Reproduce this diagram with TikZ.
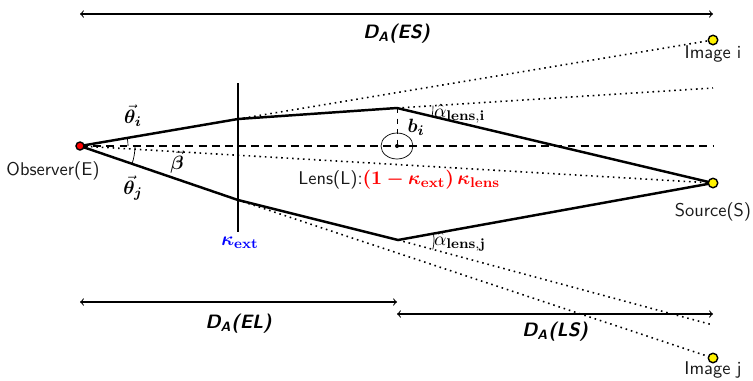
\documentclass[tikz,border=0pt]{standalone}
\usepackage{amsmath,bm}
\usetikzlibrary{angles}

\newcommand{\dist}[1]{{\sffamily\bfseries\slshape D\textsubscript{A}(#1)}}

\begin{document}
\begin{tikzpicture}[x=0.02cm, y=-0.02cm,
  ray/.style={line width=1.4pt},
  extension/.style={line width=0.9pt, dash pattern=on 0.9pt off 2.2pt},
  axis/.style={line width=0.9pt, dash pattern=on 4.5pt off 3pt},
  distarrow/.style={semithick, <->},
  point/.style={circle, draw=black, thick, inner sep=0pt, minimum size=0.19cm},
  lbl/.style={font=\sffamily\fontsize{10.5}{12}\selectfont, text=black!90, inner sep=1pt},
  big/.style={font=\fontsize{11}{13}\selectfont},
  anglearc/.style={draw, thin}
]
\useasboundingbox (0,0) rectangle (753,380);

% points and kinks
\coordinate (e) at (80,146);
\coordinate (s) at (713,183);
\coordinate (ki) at (238,119);
\coordinate (kj) at (238,200);
\coordinate (ti) at (397,108);
\coordinate (tj) at (398,240);
\coordinate (lc) at (397,146);
\coordinate (axisend) at (713,146);
\coordinate (exti) at (713,88);
\coordinate (extj) at (713,325);
\coordinate (planetop) at (238,83);
\coordinate (planebot) at (238,232);

% straight-line extensions
\draw [extension] (e) -- (s);
\draw [extension] (ki) -- (713,40) coordinate (ii);
\draw [extension] (ti) -- (exti);
\draw [extension] (kj) -- (713,358) coordinate (ij);
\draw [extension] (tj) -- (extj);
\draw [axis] (e) -- (axisend);

% lens plane and lens
\draw [ray] (planetop) -- (planebot);
\draw [thin] (lc) ellipse [x radius=0.32cm, y radius=0.26cm];
\fill (lc) circle [radius=0.04cm];
\draw [thin, dashed] (ti) -- (lc);

% light rays
\draw [ray] (e) -- (ki) -- (ti) -- (s);
\draw [ray] (e) -- (kj) -- (tj) -- (s);

% angles
\pic [anglearc, angle radius=0.96cm] {angle = axisend--e--ki};
\pic [anglearc, angle radius=1.1cm] {angle = kj--e--axisend};
\pic [anglearc, angle radius=0.72cm] {angle = s--ti--exti};
\pic [anglearc, angle radius=0.72cm] {angle = extj--tj--s};

% objects
\node (obs) [point, fill=red, minimum size=0.16cm] at (e) {};
\node (src) [point, fill=yellow] at (s) {};
\node (imgi) [point, fill=yellow] at (ii) {};
\node (imgj) [point, fill=yellow] at (ij) {};
\node (obsl) [lbl] at (53,171) {Observer(E)};
\node (srcl) [lbl] at (713,212) {Source(S)};
\node (imgil) [lbl] at (713,54) {Image i};
\node (imgjl) [lbl] at (713,370) {Image j};

% labels
\node (thi) [big, inner sep=0pt] at (133,116) {$\vec{\bm\theta}_{\bm i}$};
\node (thj) [big, inner sep=0pt] at (133,188) {$\vec{\bm\theta}_{\bm j}$};
\node (beta) [big, inner sep=0pt] at (177,162) {$\vec{\bm\beta}$};
\node (kext) [big] at (240,243) {\color{blue}$\bm\kappa_{\mathbf{ext}}$};
\node (bi) [big] at (416,127) {$\bm{b_i}$};
\node (ali) [big, anchor=west, inner sep=1pt] at (432,114) {$\hat{\alpha}_{\mathbf{lens,i}}$};
\node (alj) [big, anchor=west, inner sep=1pt] at (432,242) {$\hat{\alpha}_{\mathbf{lens,j}}$};
\node (lens) [anchor=west, inner sep=0pt] at (298,180) {\textsf{\color{black!90}\fontsize{10.5}{12}\selectfont Lens(L):}\color{red}\fontsize{11}{13}\selectfont$\bm{(1-\kappa_{\mathbf{ext}})\,\kappa_{\mathbf{lens}}}$};

% distances
\draw [distarrow] (80,14) coordinate (esl) -- node[big, below=2pt] {\dist{ES}} (713,14) coordinate (esr);
\draw [distarrow] (80,302) coordinate (ell) -- node[big, below=3pt] {\dist{EL}} (397,302) coordinate (elr);
\draw [distarrow] (397,314) coordinate (lsl) -- node[big, below=1pt] {\dist{LS}} (713,314) coordinate (lsr);

\end{tikzpicture}
\end{document}
